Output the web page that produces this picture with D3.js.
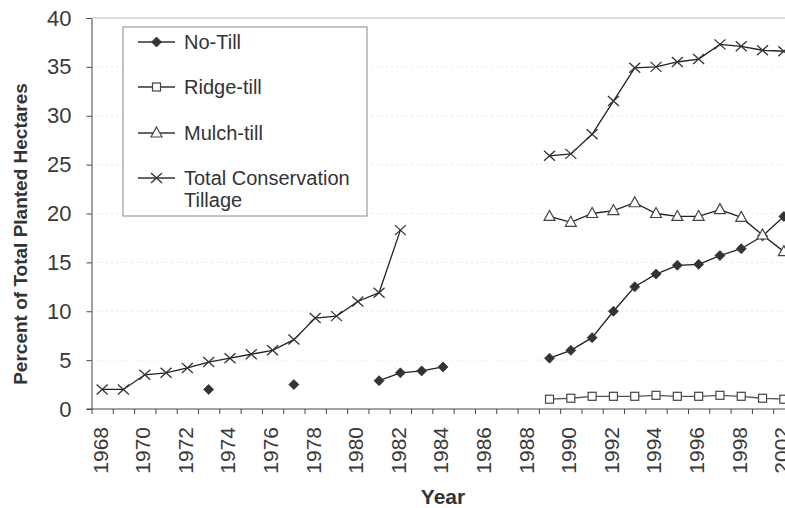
<!DOCTYPE html>
<html><head><meta charset="utf-8">
<script src="https://cdn.jsdelivr.net/npm/d3@7"></script>
<style>
html,body{margin:0;padding:0;background:#fff;}
svg{display:block;font-family:"Liberation Sans",Arial,sans-serif;}
</style></head>
<body><svg id="c" width="785" height="508"></svg>
<script>
const years = ["1968","1969","1970","1971","1972","1973","1974","1975","1976","1977","1978","1979","1980","1981","1982","1983","1984","1985","1986","1987","1988","1989","1990","1991","1992","1993","1994","1995","1996","1997","1998","2000","2002"];
const noTill = [null,null,null,null,null,2.0,null,null,null,2.5,null,null,null,2.9,3.7,3.9,4.3,null,null,null,null,5.2,6.0,7.3,10.0,12.5,13.8,14.7,14.8,15.7,16.4,17.7,19.7];
const ridgeTill = [null,null,null,null,null,null,null,null,null,null,null,null,null,null,null,null,null,null,null,null,null,1.0,1.1,1.3,1.3,1.3,1.4,1.3,1.3,1.4,1.3,1.1,1.0];
const mulchTill = [null,null,null,null,null,null,null,null,null,null,null,null,null,null,null,null,null,null,null,null,null,19.7,19.1,20.0,20.3,21.1,20.0,19.7,19.7,20.4,19.6,17.8,16.1];
const totalCons = [2.0,2.0,3.5,3.7,4.2,4.8,5.2,5.6,6.0,7.1,9.3,9.5,11.0,11.9,18.3,null,null,null,null,null,null,25.9,26.1,28.1,31.5,34.9,35.0,35.5,35.8,37.3,37.1,36.7,36.6];
const yTicks = [0,5,10,15,20,25,30,35,40];
const seriesNames = ["No-Till","Ridge-till","Mulch-till","Total Conservation Tillage"];

const svg = d3.select("#c");
const L = 91.5, R = 794.5, T = 18, B = 409;
const x = d3.scaleBand().domain(years).range([L, R]).padding(0);
const xc = d => x(d) + x.bandwidth()/2;
const y = d3.scaleLinear().domain([0, 40]).range([B, T]);
const idx = d3.scaleLinear().domain([0, years.length]).range([L, R]);

// gridlines
svg.append("g").selectAll("line").data(yTicks.filter(v => v > 0 && v < 40)).join("line")
  .attr("x1", L).attr("x2", R).attr("y1", d => y(d)).attr("y2", d => y(d))
  .attr("stroke", "#d0d0d0").attr("stroke-width", 1).attr("stroke-dasharray", "1,4");
svg.append("line").attr("x1", L).attr("x2", R).attr("y1", y(40)).attr("y2", y(40))
  .attr("stroke", "#777").attr("stroke-width", 1).attr("stroke-dasharray", "1,1");

// y axis
const ya = svg.append("g").attr("transform", `translate(${L},0)`)
  .call(d3.axisLeft(y).tickValues(yTicks).tickSize(5).tickPadding(15).tickSizeOuter(0));
ya.select(".domain").attr("stroke", "#444");
ya.selectAll(".tick line").attr("stroke", "#444");
ya.selectAll("text").attr("font-size", 22).attr("fill", "#3a3a3a").attr("font-family", "Liberation Sans, Arial, sans-serif");

// x axis ticks (between categories)
const xa = svg.append("g").attr("transform", `translate(0,${B})`)
  .call(d3.axisBottom(idx).tickValues(d3.range(years.length + 1)).tickSize(5).tickFormat("").tickSizeOuter(0));
xa.select(".domain").attr("stroke", "#444").attr("d", `M${L-5},0H${R}`);
xa.selectAll(".tick line").attr("stroke", "#444");

// x labels
const xl = svg.append("g").attr("transform", `translate(0,${B})`)
  .call(d3.axisBottom(x).tickValues(years.filter((d, i) => i % 2 === 0)).tickSize(0).tickSizeOuter(0));
xl.select(".domain").remove();
xl.selectAll("text").attr("font-size", 21).attr("fill", "#3a3a3a")
  .attr("font-family", "Liberation Sans, Arial, sans-serif")
  .attr("text-anchor", "end").attr("transform", "translate(-2,18) rotate(-90)")
  .attr("x", 0).attr("y", 0).attr("dy", "0.35em");

// axis titles
svg.append("text").attr("transform", "translate(20,234) rotate(-90)")
  .attr("text-anchor", "middle").attr("dy", "0.35em").attr("font-size", 19).attr("font-weight", "bold")
  .attr("fill", "#333").text("Percent of Total Planted Hectares");
svg.append("text").attr("x", 443).attr("y", 497).attr("text-anchor", "middle").attr("dy", "0.35em")
  .attr("font-size", 21).attr("font-weight", "bold").attr("fill", "#333").text("Year");

// markers
function marker(g, type, cx, cy) {
  if (type === 0) {
    g.append("path").attr("d", `M${cx},${cy-5}L${cx+5},${cy}L${cx},${cy+5}L${cx-5},${cy}Z`).attr("fill", "#333").attr("stroke", "#333").attr("stroke-width", 0.8);
  } else if (type === 1) {
    g.append("rect").attr("x", cx-4).attr("y", cy-4).attr("width", 8).attr("height", 8).attr("fill", "#fff").attr("stroke", "#444").attr("stroke-width", 1.2);
  } else if (type === 2) {
    g.append("path").attr("d", `M${cx},${cy-6}L${cx+5.5},${cy+4}L${cx-5.5},${cy+4}Z`).attr("fill", "#fff").attr("stroke", "#444").attr("stroke-width", 1.2);
  } else {
    g.append("path").attr("d", `M${cx-5.5},${cy-5}L${cx+5.5},${cy+5}M${cx+5.5},${cy-5}L${cx-5.5},${cy+5}`).attr("fill", "none").attr("stroke", "#333").attr("stroke-width", 1.3);
  }
}

const series = [noTill, ridgeTill, mulchTill, totalCons];
const line = d3.line().defined(d => d.v !== null).x(d => xc(d.yr)).y(d => y(d.v));
series.forEach((vals, s) => {
  const pts = years.map((yr, i) => ({yr, v: vals[i]}));
  svg.append("path").datum(pts).attr("d", line).attr("fill", "none")
    .attr("stroke", s === 1 ? "#555" : "#222").attr("stroke-width", 1.3);
});
series.forEach((vals, s) => {
  const g = svg.append("g");
  years.forEach((yr, i) => { if (vals[i] !== null) marker(g, s, xc(yr), y(vals[i])); });
});

// legend
const lg = svg.append("g");
lg.append("rect").attr("x", 123).attr("y", 27).attr("width", 244).attr("height", 189)
  .attr("fill", "#fff").attr("stroke", "#888").attr("stroke-width", 1);
const ly = [42, 87, 133, 178];
seriesNames.forEach((n, s) => {
  lg.append("line").attr("x1", 138).attr("x2", 175).attr("y1", ly[s]).attr("y2", ly[s])
    .attr("stroke", "#333").attr("stroke-width", 1.3);
  marker(lg, s, 156.5, ly[s]);
  const t = lg.append("text").attr("x", 184).attr("y", ly[s]).attr("dy", "0.35em")
    .attr("font-size", 20).attr("fill", "#333");
  if (s === 3) {
    t.append("tspan").attr("x", 184).text("Total Conservation");
    lg.append("text").attr("x", 184).attr("y", 200).attr("dy", "0.35em").attr("font-size", 20).attr("fill", "#333").text("Tillage");
  } else t.text(n);
});
</script></body></html>
